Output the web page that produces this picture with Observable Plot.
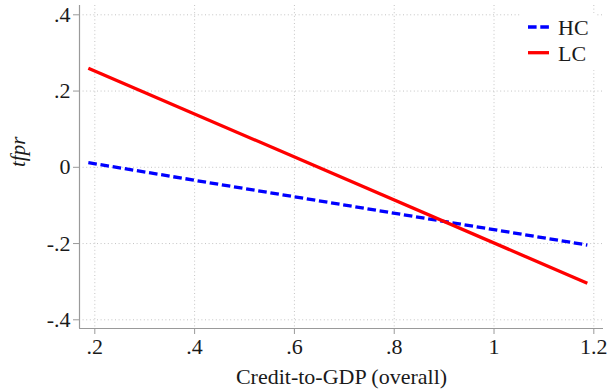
<!DOCTYPE html>
<html>
<head>
<meta charset="utf-8">
<script src="https://cdn.jsdelivr.net/npm/d3@7"></script>
<script src="https://cdn.jsdelivr.net/npm/@observablehq/plot@0.6"></script>
<style>
  html, body { margin: 0; padding: 0; background: #fff; }
  #chart svg { display: block; font-family: "Liberation Serif", "Times New Roman", serif; }
  #chart svg text { font-family: "Liberation Serif", "Times New Roman", serif; }
</style>
</head>
<body>
<div id="chart"></div>
<script>
// Data
const xEnds = [0.187, 1.187];          // Credit-to-GDP (overall), start and end of lines
const hcValues = [0.012, -0.204];      // HC (dashed blue)
const lcValues = [0.260, -0.304];      // LC (solid red)
const seriesNames = ["HC", "LC"];
const xTicks = [0.2, 0.4, 0.6, 0.8, 1, 1.2];
const xTickLabels = [".2", ".4", ".6", ".8", "1", "1.2"];
const yTicks = [-0.4, -0.2, 0, 0.2, 0.4];
const yTickLabels = ["-.4", "-.2", "0", ".2", ".4"];

const hcData = xEnds.map((x, i) => ({x, y: hcValues[i], s: seriesNames[0]}));
const lcData = xEnds.map((x, i) => ({x, y: lcValues[i], s: seriesNames[1]}));

const xDomain = [0.1693, 1.2194];
const yDomain = [-0.4228, 0.4244];
const axisColor = "#9a9a9a";
const gridColor = "#c4c4c4";
const textColor = "#1a1a1a";
const font = "Liberation Serif, Times New Roman, serif";

const chart = Plot.plot({
  width: 609,
  height: 390,
  marginLeft: 79,
  marginRight: 6,
  marginTop: 5,
  marginBottom: 62,
  style: {fontSize: "22px", color: textColor, background: "#fff"},
  x: {domain: xDomain},
  y: {domain: yDomain},
  marks: [
    Plot.gridX(xTicks, {stroke: gridColor, strokeOpacity: 1, strokeWidth: 1, strokeDasharray: "1,2.6"}),
    Plot.gridY(yTicks, {stroke: gridColor, strokeOpacity: 1, strokeWidth: 1, strokeDasharray: "1,2.6"}),
    Plot.ruleX([xDomain[0]], {stroke: axisColor, strokeWidth: 1.2}),
    Plot.ruleY([yDomain[0]], {stroke: axisColor, strokeWidth: 1.2}),
    Plot.axisX(xTicks, {
      tickSize: 6, tickPadding: 3.4, stroke: axisColor, fill: textColor, fontSize: 22, fontFamily: font,
      tickFormat: d => xTickLabels[xTicks.indexOf(d)], label: null
    }),
    Plot.axisY(yTicks, {
      tickSize: 6, tickPadding: 3, stroke: axisColor, fill: textColor, fontSize: 22, fontFamily: font,
      tickFormat: d => yTickLabels[yTicks.indexOf(d)], label: null
    }),
    Plot.line(hcData, {x: "x", y: "y", stroke: "#0000ff", strokeWidth: 3.3, strokeDasharray: "8.6,3.7", strokeLinecap: "butt"}),
    Plot.line(lcData, {x: "x", y: "y", stroke: "#ff0000", strokeWidth: 3.3, strokeLinecap: "butt"}),
    Plot.text(["Credit-to-GDP (overall)"], {frameAnchor: "bottom", dy: 48, lineAnchor: "middle", fontSize: 22, fontFamily: font, fill: textColor}),
    Plot.text(["tfpr"], {frameAnchor: "left", dx: -61, rotate: -90, lineAnchor: "middle", fontSize: 21, fontFamily: font, fontStyle: "italic", fill: textColor})
  ]
});

// Legend (inside plot, top-right)
const svg = d3.select(chart);
const lg = svg.append("g").attr("font-family", font).attr("font-size", 22).attr("fill", textColor).attr("text-anchor", "start");
lg.append("rect").attr("x", 520).attr("y", 13).attr("width", 77).attr("height", 57).attr("fill", "#fff");
const legendItems = [
  {name: seriesNames[0], color: "#0000ff", dash: "8.6,3.7", ly: 27, ty: 34.5},
  {name: seriesNames[1], color: "#ff0000", dash: null, ly: 52.7, ty: 60.5}
];
legendItems.forEach(it => {
  const l = lg.append("line").attr("x1", 528).attr("x2", 549).attr("y1", it.ly).attr("y2", it.ly)
    .attr("stroke", it.color).attr("stroke-width", 3.3);
  if (it.dash) l.attr("stroke-dasharray", it.dash);
  lg.append("text").attr("x", 558).attr("y", it.ty).attr("text-anchor", "start").text(it.name);
});

document.getElementById("chart").appendChild(chart);
</script>
</body>
</html>
